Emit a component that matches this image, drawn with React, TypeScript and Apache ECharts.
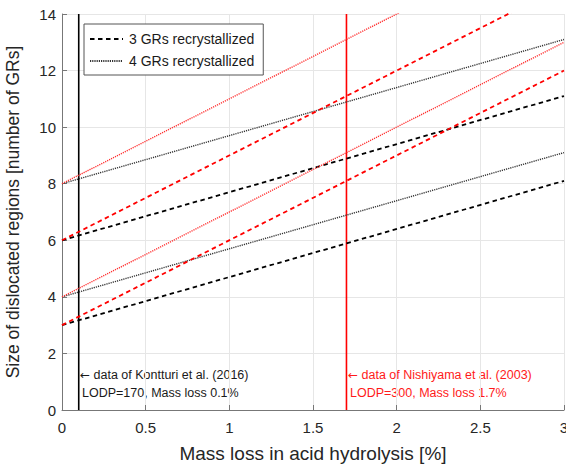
import React, { useEffect, useRef } from "react";
import * as echarts from "echarts";

// x positions of line ends (mass loss, %)
const xEnds = [0, 3];
// 3 GRs recrystallized (dashed)
const black3Low = [3, 8.1];
const black3High = [6, 11.1];
const red3Low = [3, 12];
const red3High = [6, 15];
// 4 GRs recrystallized (dotted)
const black4Low = [4, 9.1];
const black4High = [8, 13.1];
const red4Low = [4, 13];
const red4High = [8, 17];
// reference data markers (vertical lines)
const kontturiX = 0.1;
const nishiyamaX = 1.7;
const yRange = [0, 14];

const FONT = "Liberation Sans, Arial, Helvetica, sans-serif";

function pts(ys: number[]) {
  return xEnds.map((x, i) => [x, ys[i]]);
}

export default function App() {
  const ref = useRef<HTMLDivElement>(null);
  useEffect(() => {
    document.body.style.margin = "0";
    const chart = echarts.init(ref.current!, undefined, { renderer: "svg" });
    const dashed = (name: string, color: string, ys: number[]) => ({
      name,
      type: "line",
      data: pts(ys),
      symbol: "none",
      lineStyle: { color, width: 1.8, type: [4.5, 3.5] },
      itemStyle: { color },
      z: 3,
    });
    const dotted = (name: string, color: string, ys: number[]) => ({
      name,
      type: "line",
      data: pts(ys),
      symbol: "none",
      lineStyle: { color, width: 1.4, type: [1.2, 1] },
      itemStyle: { color },
      z: 3,
    });
    const vline = (name: string, color: string, x: number) => ({
      name,
      type: "line",
      data: [
        [x, yRange[0]],
        [x, yRange[1]],
      ],
      symbol: "none",
      lineStyle: { color, width: 1.6, type: "solid" },
      itemStyle: { color },
      z: 2,
    });
    const annot = (left: number, top: number, line1: string, line2: string, color: string) => ({
      type: "group",
      left,
      top,
      children: [
        {
          type: "text",
          x: 0,
          y: 0,
          style: {
            text: "{a|←} " + line1,
            fill: color,
            font: `12.5px ${FONT}`,
            rich: {
              a: { fontFamily: "DejaVu Sans", fontSize: 12, fill: color, color },
            },
          },
        },
        {
          type: "text",
          x: 2,
          y: 18,
          style: { text: line2, fill: color, font: `12.5px ${FONT}` },
        },
      ],
    });
    chart.setOption({
      animation: false,
      grid: {
        left: 62,
        right: 2,
        top: 14,
        bottom: 55,
        containLabel: false,
        outerBoundsMode: "none",
      },
      textStyle: { fontFamily: FONT },
      legend: {
        data: ["3 GRs recrystallized", "4 GRs recrystallized"],
        orient: "vertical",
        left: 84,
        top: 24,
        itemWidth: 33,
        itemHeight: 14,
        itemGap: 8,
        padding: [8, 9, 7, 5],
        borderColor: "#555",
        borderWidth: 1,
        borderRadius: 0,
        backgroundColor: "#fff",
        selectedMode: false,
        itemStyle: { opacity: 0, color: "transparent", borderWidth: 0 },
        textStyle: { fontSize: 14, color: "#1a1a1a", fontFamily: FONT, padding: [0, 0, 0, 1] },
      },
      xAxis: {
        type: "value",
        min: 0,
        max: 3,
        interval: 0.5,
        name: "Mass loss in acid hydrolysis [%]",
        nameLocation: "middle",
        nameGap: 34,
        nameTextStyle: { fontSize: 19, color: "#262626", fontFamily: FONT },
        axisLine: { show: true, lineStyle: { color: "#777", width: 1 } },
        axisTick: { show: true, inside: true, length: 5, lineStyle: { color: "#777" } },
        axisLabel: { fontSize: 15, color: "#262626", margin: 10, fontFamily: FONT },
        splitLine: { show: true, lineStyle: { color: "#e6e6e6", width: 1 } },
      },
      yAxis: {
        type: "value",
        min: yRange[0],
        max: yRange[1],
        interval: 2,
        name: "Size of dislocated regions [number of GRs]",
        nameLocation: "middle",
        nameGap: 40,
        nameTextStyle: { fontSize: 17.5, color: "#262626", fontFamily: FONT },
        axisLine: { show: true, lineStyle: { color: "#777", width: 1 } },
        axisTick: { show: true, inside: true, length: 5, lineStyle: { color: "#777" } },
        axisLabel: { fontSize: 15, color: "#262626", margin: 6, fontFamily: FONT },
        splitLine: { show: true, lineStyle: { color: "#e6e6e6", width: 1 } },
      },
      graphic: [
        annot(80, 368, "data of Kontturi et al. (2016)", "LODP=170, Mass loss 0.1%", "#1a1a1a"),
        annot(348, 368, "data of Nishiyama et al. (2003)", "LODP=300, Mass loss 1.7%", "#ff1a1a"),
      ],
      series: [
        dashed("3 GRs recrystallized", "#000", black3Low),
        dashed("3 GRs recrystallized", "#000", black3High),
        dotted("4 GRs recrystallized", "#333", black4Low),
        dotted("4 GRs recrystallized", "#333", black4High),
        dashed("3 GRs (red)", "#ff0000", red3Low),
        dashed("3 GRs (red) ", "#ff0000", red3High),
        dotted("4 GRs (red)", "#ff3030", red4Low),
        dotted("4 GRs (red) ", "#ff3030", red4High),
        vline("Kontturi", "#000", kontturiX),
        vline("Nishiyama", "#ff0000", nishiyamaX),
      ],
    });
    return () => chart.dispose();
  }, []);
  return (
    <div
      ref={ref}
      style={{ width: 566, height: 465, position: "absolute", left: 0, top: 0 }}
    />
  );
}
